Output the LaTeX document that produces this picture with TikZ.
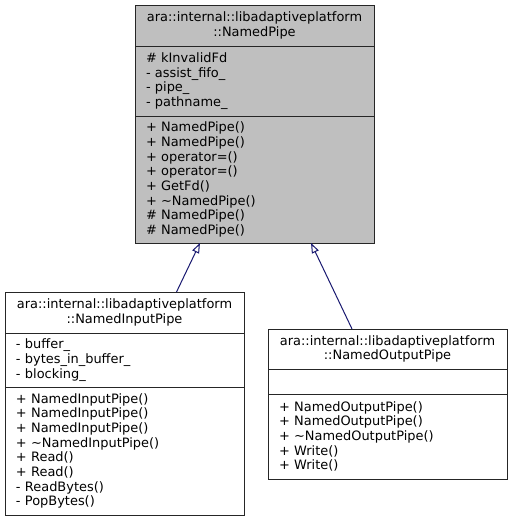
\documentclass[tikz,border=0pt]{standalone}
\usepackage{fontspec}
\setmainfont{DejaVu Sans}
\usepackage{xcolor}
\usetikzlibrary{positioning, arrows.meta}

\definecolor{arrowblue}{RGB}{25,25,112}
\newcommand{\pipefont}{\fontsize{9.7pt}{11pt}\selectfont}

\begin{document}
\begin{tikzpicture}[
    x=0.75pt, y=-0.75pt,
    part/.style={rectangle, draw=black!85, line width=0.75pt, outer sep=0pt,
        minimum width=179.25pt, text width=162.75pt, inner xsep=8.25pt, inner ysep=0pt, font=\pipefont},
    head/.style={part, align=center},
    body/.style={part, align=left},
    current/.style={fill=gray!50},
    inherit/.style={draw=arrowblue, line width=0.75pt, -{Triangle[open, length=7.5pt, width=5.5pt]}}
]
\useasboundingbox (0,0) rectangle (512,521);

% Base class
\node[head, current, anchor=north west, minimum height=30.75pt] (pipe) at (135,5)
    {ara::internal::libadaptiveplatform\\::NamedPipe};
\node[body, current, minimum height=52.5pt] (pipeattr) [below=0pt of pipe]
    {\# kInvalidFd\\- assist\_fifo\_\\- pipe\_\\- pathname\_};
\node[body, current, minimum height=95.25pt] (pipeop) [below=0pt of pipeattr]
    {+ NamedPipe()\\+ NamedPipe()\\+ operator=()\\+ operator=()\\+ GetFd()\\+ \textasciitilde NamedPipe()\\\# NamedPipe()\\\# NamedPipe()};

% Input pipe
\node[head, anchor=north west, minimum height=30.75pt] (inpipe) at (5,292)
    {ara::internal::libadaptiveplatform\\::NamedInputPipe};
\node[body, minimum height=40.5pt] (inattr) [below=0pt of inpipe]
    {- buffer\_\\- bytes\_in\_buffer\_\\- blocking\_};
\node[body, minimum height=96pt] (inop) [below=0pt of inattr]
    {+ NamedInputPipe()\\+ NamedInputPipe()\\+ NamedInputPipe()\\+ \textasciitilde NamedInputPipe()\\+ Read()\\+ Read()\\- ReadBytes()\\- PopBytes()};

% Output pipe
\node[head, anchor=north west, minimum height=30pt] (outpipe) at (268,329)
    {ara::internal::libadaptiveplatform\\::NamedOutputPipe};
\node[body, minimum height=18.75pt] (outattr) [below=0pt of outpipe] {};
\node[body, minimum height=63.75pt] (outop) [below=0pt of outattr]
    {+ NamedOutputPipe()\\+ NamedOutputPipe()\\+ \textasciitilde NamedOutputPipe()\\+ Write()\\+ Write()};

% Inheritance
\draw[inherit] ([xshift=39pt]inpipe.north) -- ([xshift=-40.9pt]pipeop.south);
\draw[inherit] ([xshift=-26.6pt]outpipe.north) -- ([xshift=42.4pt]pipeop.south);

\end{tikzpicture}
\end{document}
